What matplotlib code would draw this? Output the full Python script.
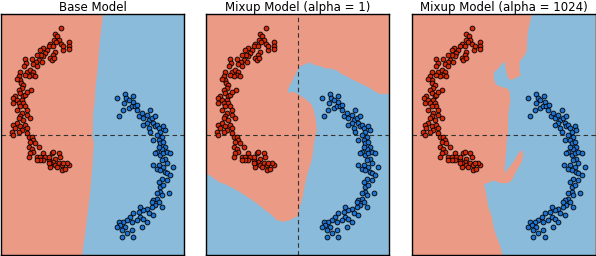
import matplotlib
matplotlib.use("Agg")
import matplotlib.pyplot as plt
from matplotlib.patches import Polygon
import numpy as np

titles = ["Base Model", "Mixup Model (alpha = 1)", "Mixup Model (alpha = 1024)"]

# class 0 (red) points
red_x = [-0.80,-0.94,-0.88,-0.84,-0.96,-0.91,-0.79,-0.60,-0.60,-0.59,-0.75,-0.73,-1.06,-1.10,-0.98,-1.15,
         -1.25,-1.31,-0.95,-0.98,-1.06,-1.02,-0.96,-1.19,-1.23,-1.30,-1.34,-1.27,-1.40,-1.41,-1.48,-1.40,
         -1.52,-1.69,-1.66,-1.71,-1.65,-1.56,-1.48,-1.52,-1.44,-1.60,-1.69,-1.81,-1.85,-1.81,-1.90,-1.80,
         -1.73,-1.77,-1.85,-1.81,-1.73,-1.69,-1.55,-1.65,-1.77,-1.94,-2.00,-1.90,-1.85,-1.98,-1.73,-1.69,
         -1.65,-1.81,-1.90,-1.77,-1.65,-1.81,-1.85,-1.56,-1.73,-1.90,-1.98,-1.94,-1.81,-1.69,-1.65,-1.77,
         -2.02,-1.98,-1.85,-1.65,-1.60,-1.52,-1.48,-1.56,-1.44,-1.35,-1.60,-1.52,-1.48,-1.56,-1.40,-1.31,
         -1.23,-1.19,-1.10,-1.23,-1.31,-1.10,-1.02,-0.98,-0.85,-0.81,-0.94,-0.98,-1.06,-0.94,-0.85,-0.77,
         -0.77,-0.69,-0.60,-0.65,-0.73,-0.90,-1.06,-1.60,-1.40,-1.10]
red_y = [2.66,2.50,2.45,2.35,2.36,2.30,2.26,2.31,2.22,2.14,2.11,2.20,2.25,2.20,2.20,2.11,
         2.15,2.11,2.07,1.99,1.90,1.86,1.90,2.03,1.95,1.99,1.86,1.82,1.99,1.82,1.76,1.70,
         1.88,1.88,1.78,1.70,1.57,1.61,1.57,1.49,1.45,1.45,1.49,1.57,1.45,1.36,1.38,1.28,
         1.24,1.15,1.11,1.03,0.95,0.99,1.10,1.07,0.86,0.95,0.92,0.86,0.78,0.78,0.78,0.70,
         0.61,0.70,0.61,0.53,0.49,0.45,0.40,0.40,0.36,0.28,0.24,0.15,0.20,0.24,0.15,0.11,
         0.07,-0.01,0.07,0.03,-0.05,-0.05,-0.14,-0.18,-0.22,-0.30,-0.30,-0.35,-0.43,-0.47,-0.55,-0.55,
         -0.47,-0.55,-0.64,-0.64,-0.64,-0.55,-0.47,-0.43,-0.47,-0.55,-0.60,-0.68,-0.72,-0.76,-0.72,-0.76,
         -0.89,-0.85,-0.76,-0.72,-0.72,-0.80,-0.80,-0.55,-0.64,-0.72]

# class 1 (blue) points
blue_x = [0.60,0.65,0.81,0.84,0.79,0.77,0.90,0.98,1.02,1.00,0.90,1.06,1.12,1.10,1.17,1.23,
          1.27,1.35,1.44,1.40,1.48,1.56,1.52,1.35,1.27,1.40,1.44,1.56,1.60,1.65,1.69,1.77,
          1.81,1.73,1.60,1.52,1.65,1.69,1.77,1.81,1.73,1.65,1.60,1.56,1.69,1.77,1.85,1.94,
          1.81,1.73,1.85,1.77,1.65,1.60,1.50,1.69,1.81,1.85,1.94,2.02,1.85,1.73,1.65,1.69,
          1.77,1.69,1.60,1.73,1.60,1.52,1.65,1.56,1.48,1.35,1.27,1.19,1.15,1.02,0.94,1.19,
          1.27,1.10,0.98,0.85,0.77,0.65,0.69,0.81,0.73,0.85,0.98,1.02,0.73,0.60,1.23,1.35,
          1.40,1.48,1.90,1.73,1.52]
blue_y = [0.92,0.45,1.00,0.90,0.78,0.61,0.65,0.70,0.82,0.95,0.86,0.70,0.74,0.61,0.45,0.53,
          0.40,0.49,0.61,0.36,0.40,0.45,0.28,0.28,0.24,0.15,0.07,0.20,0.24,0.15,0.07,0.20,
          0.11,-0.05,-0.01,-0.14,-0.14,-0.22,-0.18,-0.30,-0.35,-0.30,-0.43,-0.47,-0.51,-0.47,-0.43,-0.47,
          -0.60,-0.64,-0.72,-0.80,-0.76,-0.85,-0.76,-0.89,-0.93,-0.97,-1.01,-0.80,-1.14,-1.10,-1.18,-1.30,
          -1.26,-1.43,-1.47,-1.51,-1.60,-1.64,-1.68,-1.76,-1.80,-1.85,-1.89,-1.80,-1.93,-1.97,-2.05,-2.05,
          -2.10,-2.14,-2.18,-2.14,-2.18,-2.18,-2.26,-2.30,-2.39,-2.47,-2.39,-2.55,-2.55,-2.30,-2.30,-2.18,
          -1.97,-1.68,-1.47,-1.80,-2.01]

# decision boundary, base model: x of boundary at each y (red left, blue right)
base_by = [3.01,2.86,2.53,2.28,1.86,1.53,1.20,0.86,0.53,0.20,-0.05,-0.22,-0.47,-0.80,-1.14,-1.47,-1.80,-2.14,-2.47,-2.80,-3.02]
base_bx = [0.25,0.23,0.19,0.16,0.13,0.10,0.06,0.04,0.00,-0.01,-0.01,0.02,0.00,-0.02,-0.05,-0.08,-0.12,-0.16,-0.20,-0.25,-0.27]

# blue region outline, mixup alpha=1
mix1_x = [-2.29,-2.15,-1.98,-1.77,-1.52,-1.27,-1.02,-0.81,-0.65,-0.52,-0.35,-0.19,0.00,0.06,0.13,0.19,
          0.25,0.30,0.35,0.38,0.40,0.44,0.48,0.46,0.44,0.40,0.35,0.23,0.10,-0.02,-0.15,-0.23,
          -0.25,-0.19,-0.10,-0.02,0.06,0.19,0.31,0.40,0.56,0.69,0.81,0.98,1.10,1.23,1.35,1.56,
          1.77,1.94,2.06,2.19,2.29,2.29,-2.29]
mix1_y = [-0.97,-1.05,-1.18,-1.26,-1.39,-1.55,-1.72,-1.89,-2.01,-2.14,-2.18,-2.14,-2.04,-1.80,-1.55,-1.22,
          -0.97,-0.80,-0.64,-0.47,-0.26,-0.05,0.11,0.28,0.45,0.61,0.74,0.86,0.95,1.03,1.07,1.03,
          1.11,1.24,1.40,1.57,1.70,1.76,1.80,1.74,1.71,1.65,1.65,1.60,1.51,1.45,1.38,1.28,
          1.18,1.07,1.01,1.01,1.02,-3.01,-3.01]

# blue region outline, mixup alpha=1024
mix2_x = [0.70,0.64,0.59,0.57,0.51,0.42,0.39,0.39,0.42,0.32,0.20,0.11,0.07,0.04,0.02,-0.03,
          -0.08,-0.18,-0.25,-0.25,-0.20,-0.05,0.07,0.14,0.16,0.11,0.10,0.07,0.06,0.03,0.01,0.11,
          0.24,0.32,0.41,0.46,0.48,0.45,0.36,0.28,0.22,0.16,0.07,-0.10,-0.22,-0.30,-0.39,-0.50,
          -0.47,-0.43,-0.39,-0.30,-0.26,-0.18,-0.10,-0.03,2.29,2.29]
mix2_y = [3.01,2.76,2.51,2.10,1.97,1.86,1.81,1.60,1.47,1.43,1.36,1.39,1.51,1.68,1.78,1.81,
          1.72,1.61,1.56,1.39,1.25,1.18,1.16,1.08,0.85,0.51,0.01,-0.14,-0.39,-0.72,-0.96,-0.85,
          -0.68,-0.54,-0.41,-0.41,-0.51,-0.68,-0.82,-0.97,-1.10,-1.18,-1.22,-1.21,-1.16,-1.16,-1.21,-1.24,
          -1.35,-1.56,-1.81,-2.06,-2.31,-2.56,-2.76,-3.01,-3.01,3.01]

RED_BG = "#EA9A85"
BLUE_BG = "#8ABBDA"
RED_PT = "#D42A08"
BLUE_PT = "#1E74D2"
XL, YL = 2.29, 3.01

fig = plt.figure(figsize=(5.96, 2.56), dpi=100)
lefts = [1/596, 206/596, 412.3/596]
w, h = 183.3/596, 241/256
bottom = 1/256

for i, left in enumerate(lefts):
    ax = fig.add_axes([left, bottom, w, h])
    ax.set_xlim(-XL, XL)
    ax.set_ylim(-YL, YL)
    ax.set_facecolor(RED_BG)
    if i == 0:
        ax.fill_betweenx(base_by, base_bx, XL + 1, color=BLUE_BG, lw=0, zorder=1)
    elif i == 1:
        ax.add_patch(Polygon(np.column_stack([mix1_x, mix1_y]), closed=True, fc=BLUE_BG, ec="none", zorder=1))
    else:
        ax.add_patch(Polygon(np.column_stack([mix2_x, mix2_y]), closed=True, fc=BLUE_BG, ec="none", zorder=1))
    ax.axhline(0, color="#333333", lw=0.8, ls=(0, (4, 3)), zorder=2)
    if i == 1:
        ax.axvline(0, color="#333333", lw=0.8, ls=(0, (4, 3)), zorder=2)
    ax.scatter(red_x, red_y, s=12, c=RED_PT, edgecolors="black", linewidths=0.6, zorder=3)
    ax.scatter(blue_x, blue_y, s=12, c=BLUE_PT, edgecolors="black", linewidths=0.6, zorder=3)
    ax.set_xticks([])
    ax.set_yticks([])
    for sp in ax.spines.values():
        sp.set_linewidth(1.0)
        sp.set_color("black")
    ax.set_title(titles[i], fontsize=8.5, pad=2)

fig.savefig("out.png", dpi=100)
